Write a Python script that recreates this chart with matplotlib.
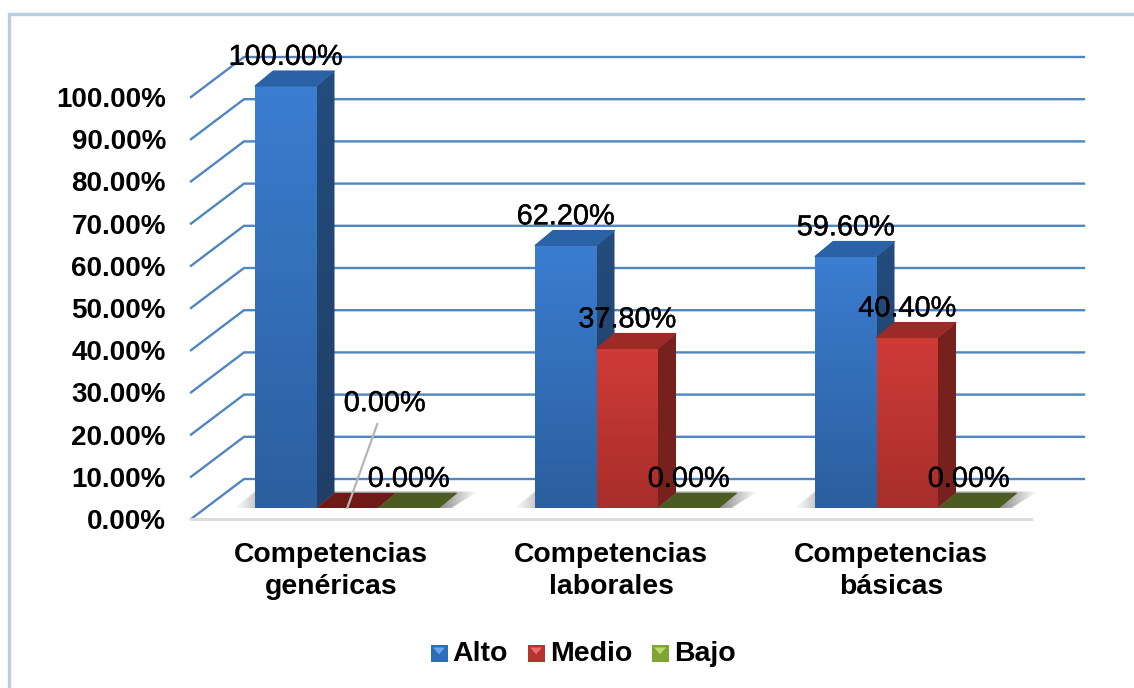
import matplotlib
matplotlib.use("Agg")
from matplotlib import pyplot as plt
from matplotlib.colors import LinearSegmentedColormap
from matplotlib.legend_handler import HandlerBase
from matplotlib.lines import Line2D
from matplotlib.patches import Patch, Polygon
import matplotlib.patheffects as pe
import numpy as np

categories = ["Competencias\ngenéricas", "Competencias\nlaborales", "Competencias\nbásicas"]
series_names = ["Alto", "Medio", "Bajo"]
alto = [100.0, 62.2, 59.6]
medio = [0.0, 37.8, 40.4]
bajo = [0.0, 0.0, 0.0]
y_ticks = [0, 10, 20, 30, 40, 50, 60, 70, 80, 90, 100]

# light, dark, side, top, flat (for zero height bars), legend
BLUE = ("#3b7dd0", "#2b5f9f", "#244c7c", "#2a62a6", "#2a62a6", "#2f6db5")
RED = ("#cf3b37", "#a82e2b", "#76211e", "#9c2a27", "#6e1b17", "#b8322f")
GREEN = ("#8db33a", "#6e8c2c", "#4b5f1e", "#556b22", "#4a5c20", "#7fa334")
GRID = "#4f86c0"

plt.rcParams["font.family"] = ["Liberation Sans", "DejaVu Sans"]

fig = plt.figure(figsize=(11.34, 6.88), dpi=100)
W, H = 1134.0, 688.0

# horizontal and vertical pixel sizes of the data units
PX = 3 / 840.0
PY = 100 / 422.0
WALL_DX, WALL_DY = 53 * PX, 40 * PY     # depth of the floor
BAR_DX, BAR_DY = 18 * PX, 15 * PY       # depth of one bar
BASE_DY = 11 * PY                       # distance of the bars to the front edge
BAR_W = 61.5 * PX

# the axes box is bigger than the front plane so the depth faces fit inside it
ax = fig.add_axes([191 / W, (H - 519) / H, 909 / W, 489 / H])
XLIM = (-0.5, -0.5 + 909 * PX)
YLIM = (0, 489 * PY)
ax.set_xlim(XLIM)
ax.set_ylim(YLIM)
for s in ax.spines.values():
    s.set_visible(False)


def gradient_poly(pts, c0, c1, z, horizontal=False):
    pts = np.array(pts)
    cmap = LinearSegmentedColormap.from_list("g", [c0, c1])
    grad = np.linspace(0, 1, 64).reshape(64, 1)
    if horizontal:
        grad = grad.T
    img = ax.imshow(grad, cmap=cmap, aspect="auto", origin="upper", zorder=z,
                    extent=[pts[:, 0].min(), pts[:, 0].max(), pts[:, 1].min(), pts[:, 1].max()])
    clip = Polygon(pts, closed=True, transform=ax.transData, fc="none", ec="none")
    ax.add_patch(clip)
    img.set_clip_path(clip)


def bar3d(x0, value, colors, z):
    x1 = x0 + BAR_W
    y0 = BASE_DY
    y1 = y0 + value
    if value == 0:
        ax.add_patch(Polygon([(x0, y0), (x1, y0), (x1 + BAR_DX, y0 + BAR_DY), (x0 + BAR_DX, y0 + BAR_DY)],
                             closed=True, fc=colors[4], ec="none", zorder=z))
        return
    gradient_poly([(x0, y0), (x1, y0), (x1, y1), (x0, y1)], colors[0], colors[1], z)
    gradient_poly([(x1, y0), (x1 + BAR_DX, y0 + BAR_DY), (x1 + BAR_DX, y1 + BAR_DY), (x1, y1)],
                  colors[2], "#1f3f68" if colors is BLUE else colors[2], z)
    ax.add_patch(Polygon([(x0, y1), (x1, y1), (x1 + BAR_DX, y1 + BAR_DY), (x0 + BAR_DX, y1 + BAR_DY)],
                         closed=True, fc=colors[3], ec=colors[3], lw=0.8, joinstyle="round", zorder=z))


# back wall and left wall
for p in y_ticks:
    ax.plot([-0.5, -0.5 + WALL_DX, 2.5 + WALL_DX], [p, p + WALL_DY, p + WALL_DY],
            color=GRID, lw=1.7, zorder=1, clip_on=False, solid_joinstyle="miter")

# floor edge
ax.plot([-0.5, 2.5], [0, 0], color="#dcdcdc", lw=2.2, zorder=1.5, clip_on=False)

for i in range(len(categories)):
    start = i - 0.5 + 64 * PX
    end = start + 3 * BAR_W
    top = BASE_DY + BAR_DY * 1.1
    # soft shadow around the foot of each group
    ax.add_patch(Polygon([(start, BASE_DY), (end, BASE_DY), (end + BAR_DX, top), (start + BAR_DX, top)],
                         closed=True, fc="#9a9a9a", ec="none", zorder=2))
    gradient_poly([(start - 20 * PX, BASE_DY), (start, BASE_DY), (start + BAR_DX, top), (start, top)],
                  "#ffffff", "#9a9a9a", 2, horizontal=True)
    gradient_poly([(end, BASE_DY), (end + 12 * PX, BASE_DY), (end + BAR_DX + 20 * PX, top), (end + BAR_DX, top)],
                  "#8f8f8f", "#ffffff", 2, horizontal=True)
    for j, (vals, cols) in enumerate(zip((alto, medio, bajo), (BLUE, RED, GREEN))):
        bar3d(start + j * BAR_W, vals[i], cols, 3 + i + j * 0.1)

# value labels sit above the front face of every bar
stroke = [pe.withStroke(linewidth=0.3, foreground="black")]
for i in range(len(categories)):
    start = i - 0.5 + 64 * PX
    for j, vals in enumerate((alto, medio, bajo)):
        xc = start + (j + 0.5) * BAR_W
        yc = BASE_DY + vals[i]
        txt = "%.2f%%" % vals[i]
        if i == 0 and j == 1:
            ax.annotate(txt, xy=(xc, yc), xytext=(27, 75.5), textcoords="offset points",
                        ha="center", va="center", fontsize=20.8, color="black", zorder=20,
                        path_effects=stroke, annotation_clip=False,
                        arrowprops=dict(arrowstyle="-", color="#b5b5b5", lw=1.6, shrinkA=3, shrinkB=0))
        else:
            ax.annotate(txt, xy=(xc, yc), xytext=(0, 21), textcoords="offset points",
                        ha="center", va="center", fontsize=20.8, color="black", zorder=20,
                        path_effects=stroke, annotation_clip=False)

ax.set_yticks(y_ticks)
ax.set_yticklabels(["%.2f%%" % v for v in y_ticks], fontsize=20, fontweight="bold")
ax.set_xticks(range(len(categories)))
ax.set_xticklabels(categories, fontsize=20.4, fontweight="bold", linespacing=1.32)
ax.tick_params(axis="y", length=0, pad=18)
ax.tick_params(axis="x", length=0, pad=16.5)
ax.set_xlim(XLIM)
ax.set_ylim(YLIM)


class SwatchHandler(HandlerBase):
    # square key with a lighter notch at the top
    def create_artists(self, legend, orig, x0, y0, width, height, fontsize, trans):
        col = orig.get_facecolor()
        light = tuple(min(1, c + 0.22) for c in col[:3])
        sq = Polygon([(x0, y0), (x0 + width, y0), (x0 + width, y0 + width), (x0, y0 + width)],
                     closed=True, fc=col, ec="none", transform=trans)
        tri = Polygon([(x0 + 0.15 * width, y0 + width * 0.85), (x0 + 0.85 * width, y0 + width * 0.85),
                       (x0 + 0.5 * width, y0 + width * 0.45)],
                      closed=True, fc=light, ec="none", transform=trans)
        return [sq, tri]


handles = [Patch(facecolor=c[5], label=n) for c, n in zip((BLUE, RED, GREEN), series_names)]
leg = fig.legend(handles=handles, loc="center", bbox_to_anchor=(583 / W, (H - 654) / H), ncol=3,
                 frameon=False, prop=dict(size=20.5, weight="bold"), handlelength=0.6, handleheight=0.6,
                 handletextpad=0.18, columnspacing=0.68,
                 handler_map={Patch: SwatchHandler()})

# thin frame around the chart area
fig.add_artist(Line2D([9 / W, 9 / W, 1], [0, (H - 14) / H, (H - 14) / H], color="#b8cce4", lw=2.4,
                      solid_joinstyle="miter"))

fig.savefig("out.png", dpi=100)
